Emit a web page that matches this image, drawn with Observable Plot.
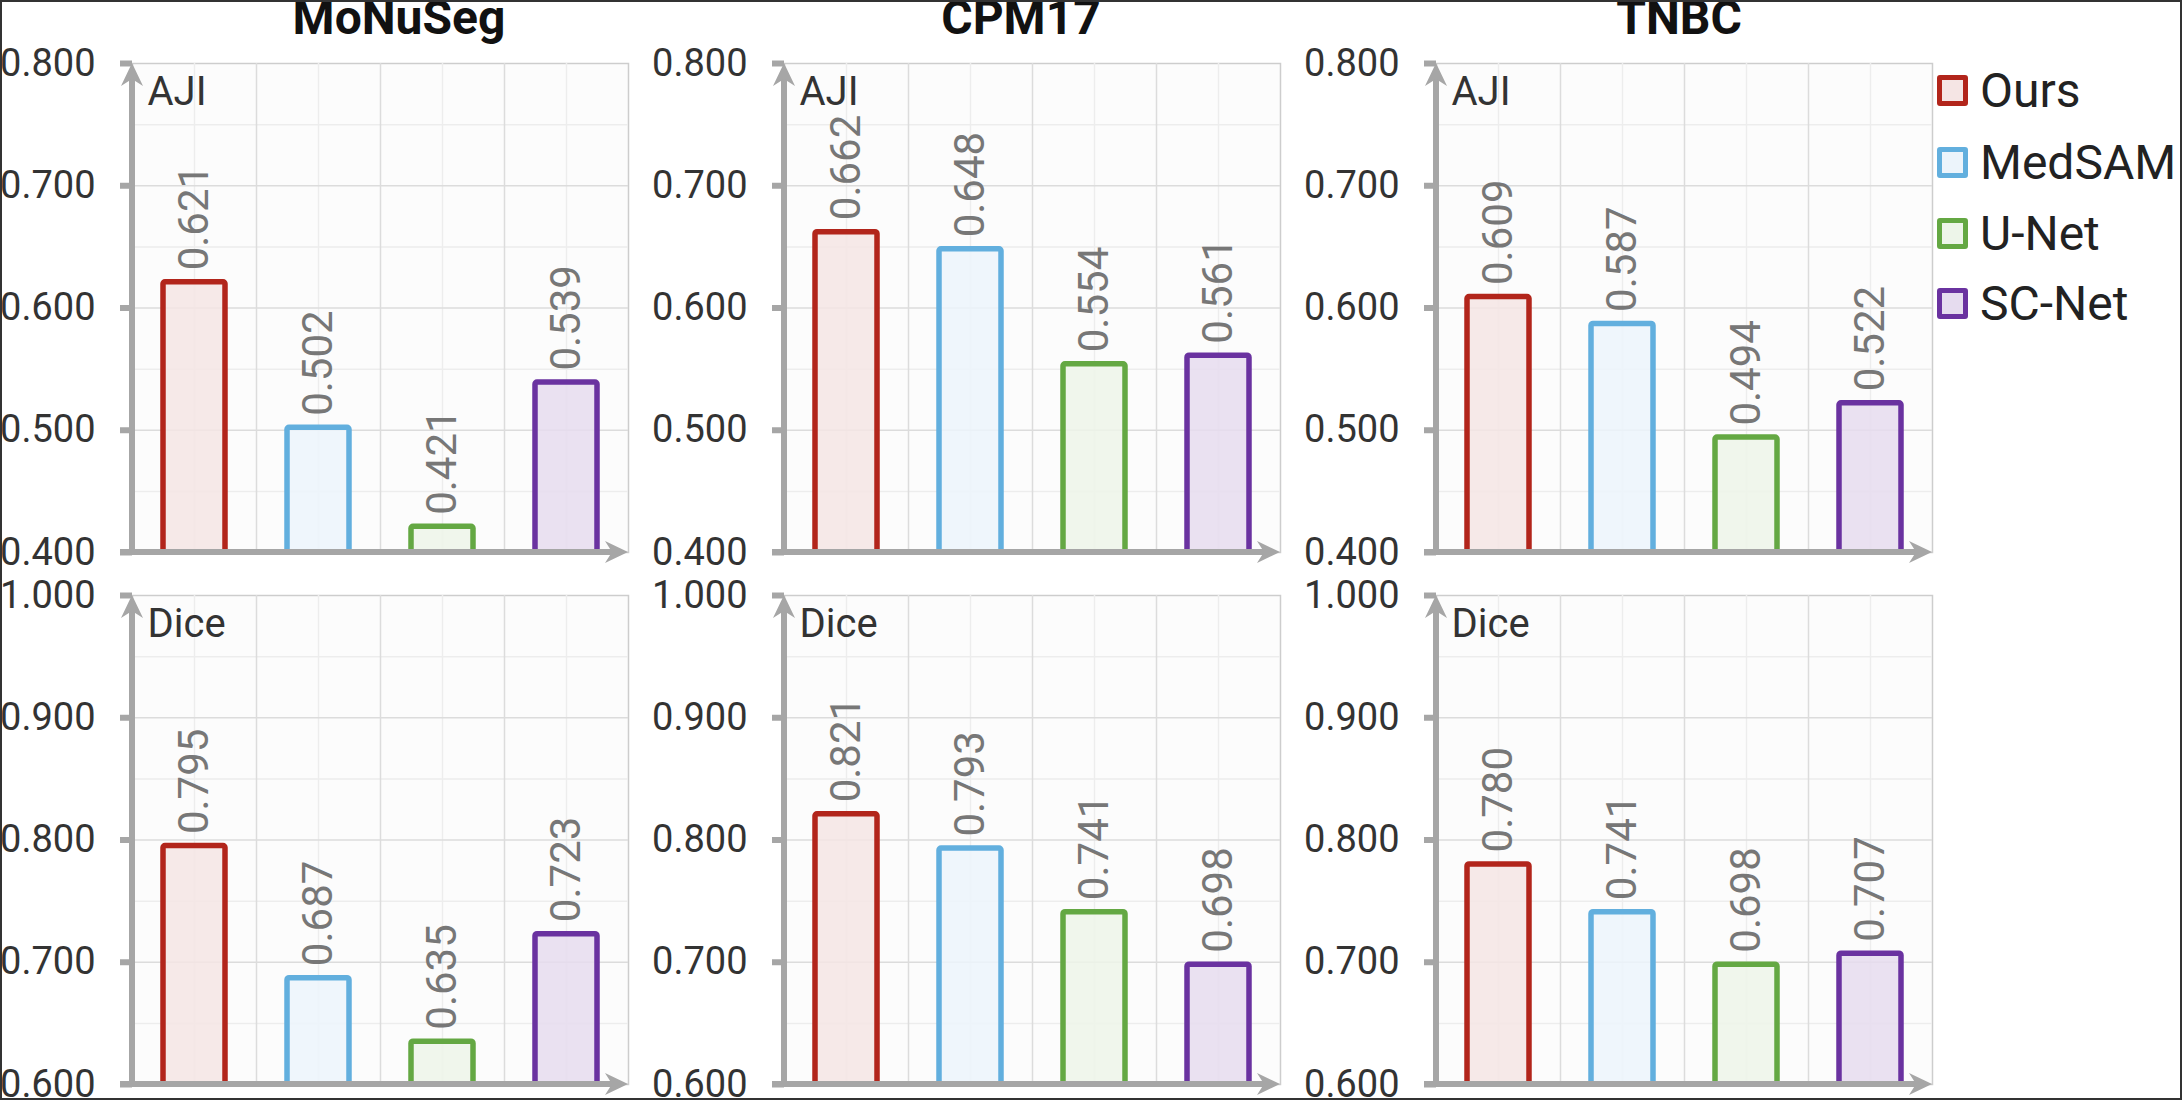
<!DOCTYPE html>
<html>
<head>
<meta charset="utf-8">
<script src="https://cdn.jsdelivr.net/npm/d3@7"></script>
<script src="https://cdn.jsdelivr.net/npm/@observablehq/plot@0.6"></script>
<style>
html, body { margin: 0; padding: 0; background: #fff; }
#root { position: relative; width: 2182px; height: 1100px; overflow: hidden; font-family: Roboto, sans-serif; background: #fff; }
#border { position: absolute; left: 0; top: 0; width: 2182px; height: 1100px; box-sizing: border-box; border: 2px solid #333; pointer-events: none; }
.panel { position: absolute; }
.panel svg { overflow: visible; display: block; }
.title { position: absolute; top: -6px; font: 700 48px Roboto, sans-serif; line-height: 48px; color: #111; transform: translateX(-50%); white-space: nowrap; }
.legrow { position: absolute; left: 1937px; height: 56px; display: flex; align-items: center; gap: 12px; font: 400 48px Roboto, sans-serif; color: #222; white-space: nowrap; }
.sw { width: 31px; height: 31px; box-sizing: border-box; border: 5px solid; border-radius: 3px; flex: none; }
</style>
</head>
<body>
<div id="root"></div>
<script>
// ---- data ----
const datasets = ["MoNuSeg", "CPM17", "TNBC"];
const models = ["Ours", "MedSAM", "U-Net", "SC-Net"];
const metrics = ["AJI", "Dice"];
const ajiMoNuSeg = [0.621, 0.502, 0.421, 0.539];
const ajiCPM17 = [0.662, 0.648, 0.554, 0.561];
const ajiTNBC = [0.609, 0.587, 0.494, 0.522];
const diceMoNuSeg = [0.795, 0.687, 0.635, 0.723];
const diceCPM17 = [0.821, 0.793, 0.741, 0.698];
const diceTNBC = [0.780, 0.741, 0.698, 0.707];
const ajiTicks = [0.4, 0.5, 0.6, 0.7, 0.8];
const diceTicks = [0.6, 0.7, 0.8, 0.9, 1.0];

// ---- styles ----
const strokeColors = ["#b2251b", "#62afde", "#64a843", "#6a32a0"];
const fillColors = ["#f5e5e4", "#ecf4fb", "#edf5e9", "#e6dcef"];
const titleX = [399, 1021, 1679];
const legendY = [90, 162, 233, 303];

const table = {
  AJI: [ajiMoNuSeg, ajiCPM17, ajiTNBC],
  Dice: [diceMoNuSeg, diceCPM17, diceTNBC]
};
const tickTable = { AJI: ajiTicks, Dice: diceTicks };

const root = document.getElementById("root");

function axisArrows(index, scales, values, dim) {
  const { width, marginLeft: L, marginRight: R } = dim;
  const [lo, hi] = scales.scales.y.domain;
  const yb = scales.y(lo), yt = scales.y(hi), xr = width - R;
  const c = "#a6a6a6";
  const g = d3.create("svg:g");
  g.append("path").attr("d", `M${L - 12},${yb}H${xr - 14}`).attr("stroke", c).attr("stroke-width", 6).attr("fill", "none");
  g.append("path").attr("d", `M${L},${yb + 3}V${yt + 14}`).attr("stroke", c).attr("stroke-width", 6).attr("fill", "none");
  g.append("path").attr("d", `M${xr},${yb}L${xr - 23},${yb - 11}L${xr - 16},${yb}L${xr - 23},${yb + 11}Z`).attr("fill", c);
  g.append("path").attr("d", `M${L},${yt}L${L - 11},${yt + 23}L${L},${yt + 16}L${L + 11},${yt + 23}Z`).attr("fill", c);
  return g.node();
}

function panel(metric, di, row) {
  const values = table[metric][di];
  const ticks = tickTable[metric];
  const W = 652, innerW = 496, mL = 132, mR = W - mL - innerW;
  const mT = row === 0 ? 63 : 35, mB = row === 0 ? 24 : 16, innerH = 489;
  const H = mT + innerH + mB;
  const step = innerW / models.length;
  const rows = models.map((m, i) => ({ model: m, value: values[i] }));
  const lo = ticks[0], hi = ticks[ticks.length - 1];
  const minor = d3.pairs(ticks, (a, b) => (a + b) / 2);
  const plot = Plot.plot({
    width: W, height: H,
    marginLeft: mL, marginRight: mR, marginTop: mT, marginBottom: mB,
    style: { background: "transparent", fontFamily: "Roboto, sans-serif", overflow: "visible" },
    x: { type: "band", domain: models, paddingInner: 0.5, paddingOuter: 0.25, axis: null },
    y: { domain: [lo, hi], axis: null },
    color: { domain: models, range: strokeColors },
    marks: [
      Plot.frame({ fill: "#fcfcfc", stroke: "#cdcdcd", strokeWidth: 1.5 }),
      Plot.gridY({ ticks: minor, stroke: "#ededed", strokeOpacity: 1, strokeWidth: 1.5 }),
      Plot.gridX({ ticks: models, stroke: "#ededed", strokeOpacity: 1, strokeWidth: 1.5 }),
      Plot.gridY({ ticks: ticks.slice(1, -1), stroke: "#dcdcdc", strokeOpacity: 1, strokeWidth: 1.5 }),
      Plot.ruleX(models.slice(1), { x: d => d, dx: -step / 2, stroke: "#dcdcdc", strokeWidth: 1.5 }),
      Plot.barY(rows, { x: "model", y1: lo, y2: "value", stroke: d => d.model, fill: d => fillColors[models.indexOf(d.model)], fillOpacity: 0.85, strokeWidth: 5.5, rx: 2 }),
      Plot.text(rows, { x: "model", y: "value", text: d => d3.format(".3f")(d.value), rotate: -90, textAnchor: "start", dy: -12, fontSize: 42, fill: "#777" }),
      Plot.text([metric], { frameAnchor: "top-left", lineAnchor: "top", text: d => d, dx: 15, dy: 13, fontSize: 40, fill: "#333" }),
      Plot.axisY({ ticks: ticks, label: null, tickSize: 12, tickPadding: 25, stroke: "#a6a6a6", strokeWidth: 6, fill: "#333", fontSize: 38, tickFormat: ".3f" }),
      axisArrows
    ]
  });
  const div = document.createElement("div");
  div.className = "panel";
  div.style.left = (di * W) + "px";
  div.style.top = (row === 0 ? 0 : 560) + "px";
  div.appendChild(plot);
  root.appendChild(div);
}

metrics.forEach((m, r) => datasets.forEach((d, i) => panel(m, i, r)));

datasets.forEach((d, i) => {
  const t = document.createElement("div");
  t.className = "title";
  t.style.left = titleX[i] + "px";
  t.textContent = d;
  root.appendChild(t);
});

models.forEach((m, i) => {
  const r = document.createElement("div");
  r.className = "legrow";
  r.style.top = (legendY[i] - 28) + "px";
  const sw = document.createElement("div");
  sw.className = "sw";
  sw.style.borderColor = strokeColors[i];
  sw.style.background = fillColors[i];
  const tx = document.createElement("span");
  tx.textContent = m;
  r.appendChild(sw);
  r.appendChild(tx);
  root.appendChild(r);
});

const b = document.createElement("div");
b.id = "border";
root.appendChild(b);
</script>
</body>
</html>
